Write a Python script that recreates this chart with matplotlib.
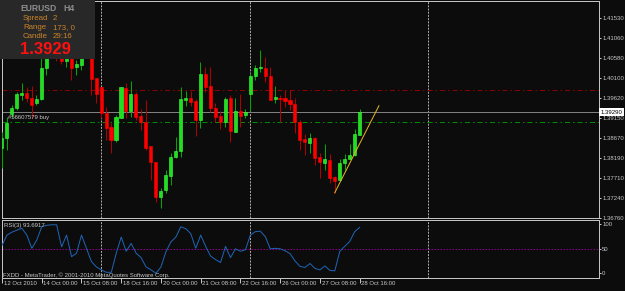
import matplotlib
matplotlib.use('Agg')
import matplotlib.pyplot as plt
from matplotlib.patches import Rectangle
import numpy as np

# ---------------- data (EURUSD H4) ----------------
opens = [1.3844, 1.3868, 1.3925, 1.3939, 1.3970, 1.3975, 1.3963, 1.3951, 1.3961, 1.4035,
         1.4065, 1.4095, 1.4080, 1.4050, 1.4065, 1.4037, 1.4042, 1.4070, 1.4060, 1.4011,
         1.3989, 1.3927, 1.3894, 1.3863, 1.3915, 1.3987, 1.3932, 1.3973, 1.3920, 1.3906,
         1.3848, 1.3810, 1.3727, 1.3743, 1.3777, 1.3822, 1.3837, 1.3958, 1.3963, 1.3956,
         1.3911, 1.4020, 1.3992, 1.3939, 1.3920, 1.3906, 1.3963, 1.3882, 1.3932, 1.3922,
         1.3972, 1.4015, 1.4033, 1.4035, 1.4015, 1.3961, 1.3963, 1.3963, 1.3958, 1.3949,
         1.3906, 1.3865, 1.3856, 1.3868, 1.3822, 1.3808, 1.3815, 1.3774, 1.3767, 1.3808,
         1.3817, 1.3827, 1.3875]
highs = [1.3882, 1.3918, 1.3946, 1.3977, 1.3999, 1.3989, 1.3991, 1.3970, 1.4058, 1.4075,
         1.4100, 1.4105, 1.4095, 1.4075, 1.4075, 1.4054, 1.4080, 1.4085, 1.4065, 1.4011,
         1.3989, 1.3942, 1.3903, 1.3922, 1.3989, 1.3999, 1.4004, 1.3977, 1.3937, 1.3958,
         1.3848, 1.3810, 1.3748, 1.3791, 1.3832, 1.3870, 1.3989, 1.3980, 1.3980, 1.3961,
         1.4049, 1.4037, 1.4037, 1.3951, 1.3932, 1.3965, 1.3970, 1.3963, 1.3972, 1.3937,
         1.4023, 1.4042, 1.4077, 1.4061, 1.4037, 1.3992, 1.3970, 1.3982, 1.3982, 1.3963,
         1.3911, 1.3877, 1.3880, 1.3870, 1.3832, 1.3853, 1.3829, 1.3777, 1.3817, 1.3829,
         1.3853, 1.3889, 1.3937]
lows = [1.3796, 1.3839, 1.3915, 1.3934, 1.3958, 1.3953, 1.3915, 1.3946, 1.3958, 1.4018,
        1.4060, 1.4050, 1.4044, 1.4037, 1.4006, 1.4018, 1.4030, 1.4058, 1.3970, 1.3951,
        1.3915, 1.3863, 1.3832, 1.3858, 1.3915, 1.3915, 1.3918, 1.3911, 1.3887, 1.3839,
        1.3767, 1.3715, 1.3701, 1.3736, 1.3755, 1.3820, 1.3822, 1.3944, 1.3944, 1.3872,
        1.3891, 1.3977, 1.3929, 1.3906, 1.3889, 1.3894, 1.3858, 1.3882, 1.3894, 1.3915,
        1.3932, 1.4006, 1.4025, 1.4001, 1.3958, 1.3951, 1.3906, 1.3942, 1.3934, 1.3880,
        1.3839, 1.3827, 1.3832, 1.3803, 1.3772, 1.3791, 1.3760, 1.3736, 1.3767, 1.3791,
        1.3817, 1.3825, 1.3875]
closes = [1.3868, 1.3903, 1.3939, 1.3973, 1.3975, 1.3963, 1.3946, 1.3961, 1.4035, 1.4065,
          1.4090, 1.4080, 1.4050, 1.4065, 1.4035, 1.4044, 1.4070, 1.4060, 1.4008, 1.3972,
          1.3927, 1.3891, 1.3863, 1.3918, 1.3989, 1.3932, 1.3973, 1.3918, 1.3906, 1.3844,
          1.3810, 1.3727, 1.3741, 1.3779, 1.3822, 1.3837, 1.3961, 1.3963, 1.3953, 1.3911,
          1.4020, 1.3989, 1.3939, 1.3918, 1.3906, 1.3961, 1.3884, 1.3932, 1.3920, 1.3930,
          1.4015, 1.4035, 1.4035, 1.4015, 1.3958, 1.3965, 1.3961, 1.3956, 1.3949, 1.3906,
          1.3863, 1.3858, 1.3868, 1.3820, 1.3810, 1.3817, 1.3772, 1.3765, 1.3808, 1.3817,
          1.3827, 1.3877, 1.3929]
rsi = [57, 78, 84, 88, 92, 78, 51, 68, 95, 98,
       99, 99, 54, 78, 34, 41, 78, 51, 24, 13,
       7, 2, 2, 41, 74, 45, 61, 41, 32, 13,
       7, 0, 13, 44, 64, 74, 95, 91, 81, 51,
       78, 55, 35, 28, 22, 55, 32, 50, 45, 48,
       78, 85, 86, 75, 50, 51, 50, 46, 40, 25,
       14, 12, 20, 10, 7, 15, 6, 5, 45, 55,
       65, 85, 93.6917]

date_labels = ["12 Oct 2010", "14 Oct 00:00", "15 Oct 08:00", "18 Oct 16:00",
               "20 Oct 00:00", "21 Oct 08:00", "22 Oct 16:00", "26 Oct 00:00",
               "27 Oct 08:00", "28 Oct 16:00"]
date_label_bars = [0, 8, 16, 24, 32, 40, 48, 56, 64, 72]
price_ticks = [1.41530, 1.41060, 1.40580, 1.40100, 1.39620, 1.39150,
               1.38670, 1.38190, 1.37710, 1.37240, 1.36760]
rsi_ticks = [0, 50, 100]
week_separators = [20, 50, 85.8]
bid = 1.3929
red_level = 1.3981
green_level = 1.3905
trend_x = [67, 75.9]
trend_y = [1.3736, 1.3944]
symbol, timeframe = "EURUSD", "H4"
spread, rng, candle_left = "2", "173, 0", "29:16"
order_label = "#56607579 buy"
rsi_label = "RSI(3) 93.6917"
copyright_text = "FXDD - MetaTrader, \u00a9 2001-2010 MetaQuotes Software Corp."

# ---------------- style ----------------
plt.rcParams['font.family'] = ['Liberation Sans', 'DejaVu Sans']
W, H = 625, 291
BG = '#0c0c0c'
FRAME = '#c4c4c4'
TXT = '#c8c8c8'
PX = 0.72  # one pixel in points
FS = 4.35
NARROW = ['Liberation Sans Narrow', 'Liberation Sans', 'DejaVu Sans']

fig = plt.figure(figsize=(W / 100, H / 100), dpi=100, facecolor=BG)

def fy(py):
    return 1 - py / H

ax = fig.add_axes([2 / W, fy(218), 597 / W, 217 / H], facecolor=BG)
axr = fig.add_axes([2 / W, fy(278), 597 / W, 58 / H], facecolor=BG)

x0 = (2 - 1.7) / 4.97
x1 = (599 - 1.7) / 4.97
for a in (ax, axr):
    a.set_xlim(x0, x1)
    for s in a.spines.values():
        s.set_color(FRAME)
        s.set_linewidth(PX)
ax.set_ylim(1.3676, 1.4194)
axr.set_ylim(-9.6, 108.8)

# candles
n = len(opens)
xs = np.arange(n)
o = np.array(opens); h = np.array(highs); l = np.array(lows); c = np.array(closes)
up = c >= o
wick_cols = np.where(up, '#00a800', '#b00000')
ax.vlines(xs, l, h, colors=wick_cols, linewidth=PX, zorder=3)
body_h = np.maximum(np.abs(c - o), 0.00024)
body_b = np.minimum(o, c)
ax.bar(xs[up], body_h[up], bottom=body_b[up], width=0.62, color='#1ee01e',
       edgecolor='#40ff40', linewidth=0.4, zorder=4)
ax.bar(xs[~up], body_h[~up], bottom=body_b[~up], width=0.62, color='#ff0000',
       edgecolor='#ff0000', linewidth=0.4, zorder=4)

# levels
ax.axhline(bid, color='#808080', linewidth=PX, zorder=2)
ax.axhline(red_level, color='#8b0000', linewidth=PX, dashes=(5, 3, 1.5, 3), zorder=2)
ax.axhline(green_level, color='#008c00', linewidth=PX, dashes=(5, 3, 1.5, 3), zorder=2)
ax.plot(trend_x, trend_y, color='#e6b422', linewidth=PX, zorder=5)

# separators
for a in (ax, axr):
    for xv in week_separators:
        a.axvline(xv, color='#a8a8a8', linewidth=PX, dashes=(2, 1.2), zorder=1)

# right axes labels
ax.yaxis.tick_right()
ax.set_yticks(price_ticks)
ax.set_yticklabels([f"{v:.5f}" for v in price_ticks])
ax.tick_params(axis='y', colors=FRAME, labelcolor=TXT, length=2 * PX, width=PX,
               pad=0.8, labelsize=FS)
ax.set_xticks([])

axr.yaxis.tick_right()
axr.set_yticks(rsi_ticks)
axr.set_yticklabels([str(v) for v in rsi_ticks])
axr.tick_params(axis='y', colors=FRAME, labelcolor=TXT, length=2 * PX, width=PX,
                pad=0.8, labelsize=FS)
axr.set_xticks(date_label_bars)
axr.tick_params(axis='x', colors=FRAME, length=5 * PX, width=PX, labelbottom=False)
for lbl, b in zip(date_labels, date_label_bars):
    axr.annotate(lbl, xy=(b, 0), xycoords=('data', 'axes fraction'),
                 xytext=(1.2, -2.2), textcoords='offset points', ha='left', va='top',
                 fontsize=FS, color=TXT, annotation_clip=False)

# bid price box
ax.annotate(f"{bid:.5f}", xy=(1, bid), xycoords=('axes fraction', 'data'),
            xytext=(1.2, 0), textcoords='offset points', ha='left', va='center',
            fontsize=FS, color='black', annotation_clip=False, zorder=20,
            bbox=dict(boxstyle='square,pad=0.2', fc='white', ec='white', lw=0))

# RSI
axr.plot(xs, rsi, color='#1f64b4', linewidth=PX, zorder=3)
axr.axhline(50, color='#8a008a', linewidth=PX, dashes=(1.5, 1.5), zorder=2)
fig.text(4 / W, fy(225.5), rsi_label, fontsize=FS, color=TXT, va='center', ha='left')
fig.text(3 / W, fy(274.8), copyright_text, fontsize=FS, color=TXT, va='center', ha='left')

# order label
ax.annotate(order_label, xy=(6 / 597, green_level), xycoords=('axes fraction', 'data'),
            xytext=(0, 1.2), textcoords='offset points', ha='left', va='bottom',
            fontsize=FS, color=TXT)

# info box
box = Rectangle((0, fy(59)), 95 / W, 59 / H, transform=fig.transFigure,
                facecolor='#282828', edgecolor='none', zorder=10, clip_on=False)
ax.add_artist(box)
ax.text(20 / W, fy(8.5), symbol, transform=fig.transFigure, fontsize=6.2,
        family=NARROW, fontweight='bold', color='#8e8e8e', va='center', ha='left', zorder=11)
ax.text(63 / W, fy(8.5), timeframe, transform=fig.transFigure, fontsize=6.2,
        family=NARROW, fontweight='bold', color='#8e8e8e', va='center', ha='left', zorder=11)
ORANGE = '#cc8428'
for yy, k, v in [(18.5, "Spread", spread), (27.5, "Range", rng), (36.5, "Candle", candle_left)]:
    ax.text(23 / W, fy(yy), k, transform=fig.transFigure, fontsize=5.7,
            color=ORANGE, va='center', ha='left', zorder=11)
    ax.text(53 / W, fy(yy), v, transform=fig.transFigure, fontsize=5.7,
            color=ORANGE, va='center', ha='left', zorder=11)
ax.text(20 / W, fy(49), f"{closes[-1]:.4f}", transform=fig.transFigure, fontsize=12,
        fontweight='bold', color='#ff1010', va='center', ha='left', zorder=11)

fig.savefig('out.png', dpi=100, facecolor=BG)
